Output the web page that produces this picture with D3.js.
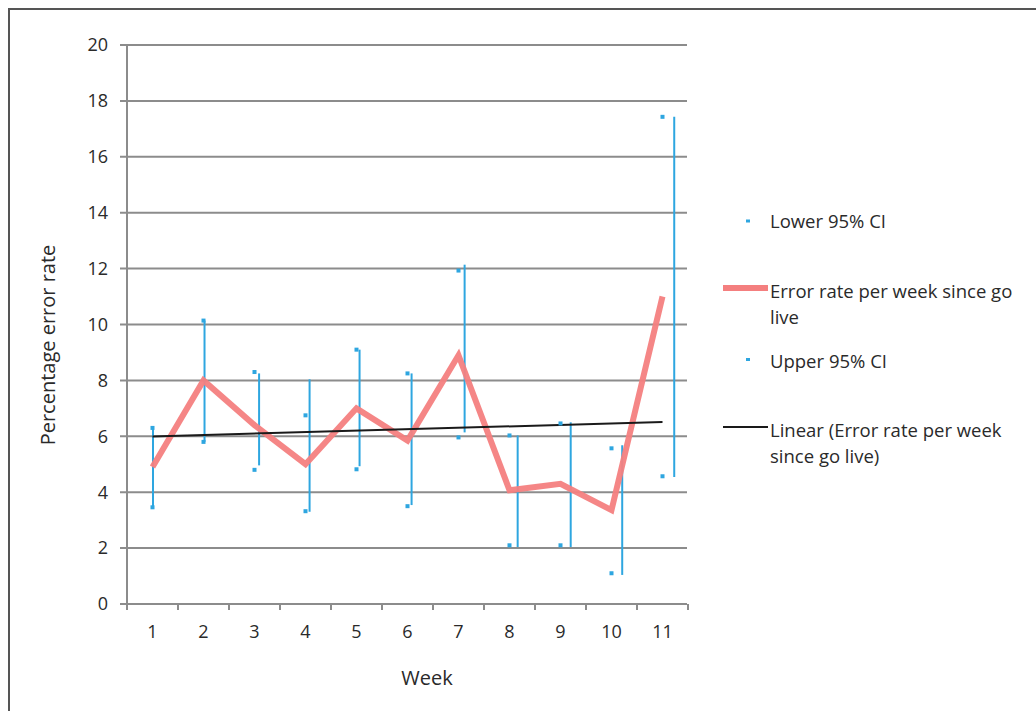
<!DOCTYPE html>
<html><head><meta charset="utf-8">
<script src="https://cdn.jsdelivr.net/npm/d3@7"></script>
<style>body{margin:0;background:#fff}svg{display:block}text{font-family:"Open Sans",sans-serif;fill:#2a2a2a}</style>
</head><body><svg id="c" width="1036" height="711"></svg>
<script>
const weeks = [1,2,3,4,5,6,7,8,9,10,11];
const errorRate = [4.9, 8.0, 6.4, 5.0, 7.0, 5.85, 8.9, 4.07, 4.3, 3.36, 11.0];
const lowerCI = [3.46, 5.8, 4.8, 3.32, 4.82, 3.5, 5.96, 2.1, 2.1, 1.1, 4.57];
const upperCI = [6.3, 10.14, 8.3, 6.75, 9.1, 8.25, 11.93, 6.03, 6.46, 5.57, 17.43];
// error bar segments (as drawn in the original, slightly offset in week units)
const barWeek = [1.01, 2.02, 3.09, 4.08, 5.06, 6.08, 7.12, 8.16, 9.2, 10.21, 11.23];
const barTop = [6.32, 10.14, 8.25, 8.04, 9.1, 8.25, 12.14, 6.03, 6.5, 5.68, 17.43];
const barBottom = [3.46, 5.8, 4.96, 3.3, 4.93, 3.54, 6.14, 2.04, 2.04, 1.04, 4.54];
const yTicks = [0,2,4,6,8,10,12,14,16,18,20];
const legendItems = ["Lower 95% CI", "Error rate per week since go|live", "Upper 95% CI", "Linear (Error rate per week|since go live)"];

const svg = d3.select("#c");
const blue = "#2ea6e0", red = "#f47f7f", grid = "#8c8c8c";

// frame
svg.append("path").attr("d","M9,720 L9,9 L1045,9").attr("fill","none").attr("stroke","#555").attr("stroke-width",2);

const x = d3.scaleLinear().domain([0.5, 11.5]).range([127, 688]);
const y = d3.scaleLinear().domain([0, 20]).range([604, 45]);

// gridlines
svg.append("g").selectAll("line").data(yTicks).join("line")
  .attr("x1", 120).attr("x2", 687).attr("y1", d=>y(d)).attr("y2", d=>y(d))
  .attr("stroke", grid).attr("stroke-width", 2);
// y axis line
svg.append("line").attr("x1",x(0.5)).attr("x2",x(0.5)).attr("y1",y(20)).attr("y2",y(0)+5).attr("stroke",grid).attr("stroke-width",2);
// y tick labels
svg.append("g").selectAll("text").data(yTicks).join("text")
  .attr("x", 108).attr("y", d=>y(d)).attr("dy","0.35em").attr("text-anchor","end")
  .attr("font-size", 18).text(d=>d);
// x ticks at band boundaries
const bounds = d3.range(0.5, 12, 1);
svg.append("g").selectAll("line").data(bounds).join("line")
  .attr("x1", d=>x(d)).attr("x2", d=>x(d)).attr("y1", y(0)).attr("y2", y(0)+6)
  .attr("stroke", grid).attr("stroke-width", 2);
svg.append("g").selectAll("text").data(weeks).join("text")
  .attr("x", d=>x(d)).attr("y", 632).attr("dy","0.35em").attr("text-anchor","middle")
  .attr("font-size", 18).text(d=>d);

// titles
svg.append("text").attr("transform","translate(48,345) rotate(-90)").attr("text-anchor","middle").attr("dy","0.35em").attr("font-size",20).text("Percentage error rate");
svg.append("text").attr("x",427).attr("y",678).attr("text-anchor","middle").attr("dy","0.35em").attr("font-size",20).text("Week");

// error bars
svg.append("g").selectAll("line").data(weeks.map((w,i)=>i)).join("line")
  .attr("x1", i=>x(barWeek[i])).attr("x2", i=>x(barWeek[i]))
  .attr("y1", i=>y(barTop[i])).attr("y2", i=>y(barBottom[i]))
  .attr("stroke", blue).attr("stroke-width", 2);

// red line
const line = d3.line().x((d,i)=>x(weeks[i])).y(d=>y(d));
svg.append("path").datum(errorRate).attr("d", line).attr("fill","none")
  .attr("stroke", red).attr("stroke-width", 6).attr("stroke-linejoin","miter").attr("opacity",0.95);

// trend line via least squares
const mx = d3.mean(weeks), my = d3.mean(errorRate);
const slope = d3.sum(weeks.map((w,i)=>(w-mx)*(errorRate[i]-my))) / d3.sum(weeks.map(w=>(w-mx)**2));
const icpt = my - slope*mx;
svg.append("line").attr("x1", x(1)).attr("x2", x(11)).attr("y1", y(icpt+slope)).attr("y2", y(icpt+slope*11))
  .attr("stroke","#1a1a1a").attr("stroke-width",2);

// CI dots
[lowerCI, upperCI].forEach(arr=>{
  svg.append("g").selectAll("rect").data(arr).join("rect")
    .attr("x",(d,i)=>x(weeks[i])-2).attr("y",d=>y(d)-2).attr("width",4).attr("height",4)
    .attr("fill", blue);
});

// legend
const lg = svg.append("g");
const rows = [222, 292, 362, 431];
legendItems.forEach((t,k)=>{
  const parts = t.split("|");
  parts.forEach((p,j)=>{
    lg.append("text").attr("x",770).attr("y",rows[k]+j*26).attr("dy","0.35em").attr("font-size",18.5).text(p);
  });
});
lg.append("rect").attr("x",746).attr("y",rows[0]-2.5).attr("width",4).attr("height",3).attr("fill",blue);
lg.append("rect").attr("x",746).attr("y",rows[2]-4).attr("width",4).attr("height",3).attr("fill",blue);
lg.append("line").attr("x1",723).attr("x2",768).attr("y1",288).attr("y2",288).attr("stroke",red).attr("stroke-width",6);
lg.append("line").attr("x1",723).attr("x2",768).attr("y1",427).attr("y2",427).attr("stroke","#1a1a1a").attr("stroke-width",2);
</script></body></html>
